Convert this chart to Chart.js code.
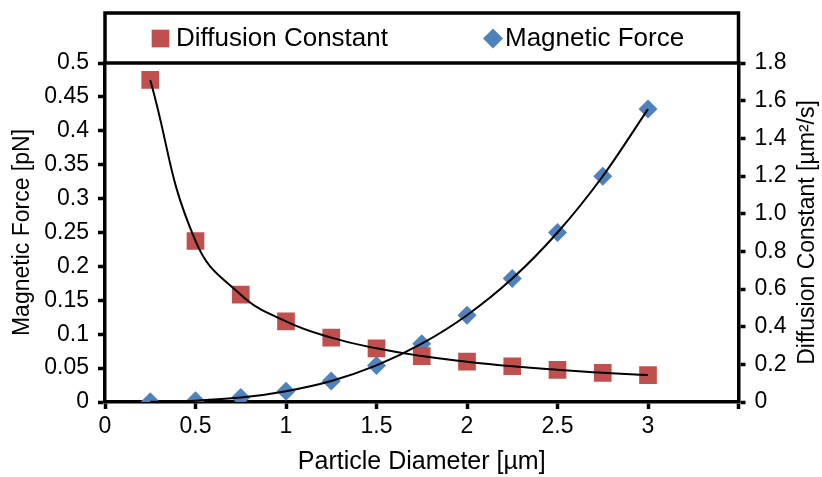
<!DOCTYPE html>
<html lang="en">
<head>
    <meta charset="UTF-8">
    <title>Magnetic Force and Diffusion Constant</title>
    <script src="https://cdn.jsdelivr.net/npm/chart.js"></script>
    <style>
        html, body {
            margin: 0;
            padding: 0;
            background: #fff;
        }
        #wrap {
            width: 822px;
            height: 477px;
        }
    </style>
</head>
<body>
    <div id="wrap"><canvas id="forceChart" width="822" height="477"></canvas></div>

    <script>
        // values
        const diameters = [0.25, 0.5, 0.75, 1, 1.25, 1.5, 1.75, 2, 2.25, 2.5, 2.75, 3];
        const magneticForce = [0.0003, 0.002, 0.0065, 0.016, 0.031, 0.054, 0.086, 0.128, 0.182, 0.25, 0.333, 0.432];
        const diffusionConstant = [1.71, 0.855, 0.57, 0.428, 0.342, 0.285, 0.244, 0.214, 0.19, 0.171, 0.155, 0.143];
        const xTicks = [0, 0.5, 1, 1.5, 2, 2.5, 3];

        const FONT = "'Liberation Sans', Arial, sans-serif";
        const RED = '#C0504D';
        const BLUE = '#4F81BD';

        const toPoints = ys => diameters.map((d, i) => ({ x: d, y: ys[i] }));

        // legend box on top of the plot + right axis title (reads bottom to top)
        const decorations = {
            id: 'decorations',
            afterDraw(chart) {
                const { ctx, chartArea } = chart;
                const top = 13;
                ctx.save();
                ctx.strokeStyle = '#000';
                ctx.lineWidth = 3.5;
                ctx.strokeRect(chartArea.left, top, chartArea.right - chartArea.left, chartArea.top - top);

                const midY = (top + chartArea.top) / 2 + 0.5;
                ctx.font = '26px ' + FONT;
                ctx.textBaseline = 'middle';
                ctx.fillStyle = RED;
                Chart.helpers.drawPoint(ctx, { pointStyle: 'rect', radius: 12.5, rotation: 0, borderWidth: 0 }, chartArea.left + 55.5, midY);
                ctx.fillStyle = '#000';
                ctx.fillText('Diffusion Constant', chartArea.left + 71, midY);
                ctx.fillStyle = BLUE;
                Chart.helpers.drawPoint(ctx, { pointStyle: 'rectRot', radius: 10, rotation: 0, borderWidth: 0 }, chartArea.left + 388, midY);
                ctx.fillStyle = '#000';
                ctx.fillText('Magnetic Force', chartArea.left + 400, midY);

                ctx.translate(808, (chartArea.top + chartArea.bottom) / 2);
                ctx.rotate(-Math.PI / 2);
                ctx.textAlign = 'center';
                ctx.font = '23px ' + FONT;
                ctx.fillText('Diffusion Constant [\u00b5m\u00b2/s]', 0, 0);
                ctx.restore();
            }
        };

        const axisGrid = {
            drawOnChartArea: false,
            drawTicks: true,
            tickLength: 7,
            tickWidth: 3.5,
            tickColor: '#000'
        };
        const axisBorder = { display: true, color: '#000', width: 3.5 };
        const tickFont = { family: FONT, size: 23 };

        new Chart(document.getElementById('forceChart'), {
            type: 'scatter',
            data: {
                datasets: [
                    {
                        label: 'Diffusion trend',
                        data: toPoints(diffusionConstant),
                        yAxisID: 'y1',
                        showLine: true,
                        borderColor: '#000',
                        borderWidth: 2,
                        pointRadius: 0,
                        tension: 0.45,
                        order: 0
                    },
                    {
                        label: 'Force trend',
                        data: toPoints(magneticForce),
                        yAxisID: 'y',
                        showLine: true,
                        borderColor: '#000',
                        borderWidth: 2,
                        pointRadius: 0,
                        cubicInterpolationMode: 'monotone',
                        order: 0
                    },
                    {
                        label: 'Diffusion Constant',
                        data: toPoints(diffusionConstant),
                        yAxisID: 'y1',
                        pointStyle: 'rect',
                        pointRadius: 12.5,
                        pointHoverRadius: 12.5,
                        backgroundColor: RED,
                        borderColor: RED,
                        borderWidth: 0,
                        order: 1
                    },
                    {
                        label: 'Magnetic Force',
                        data: toPoints(magneticForce),
                        yAxisID: 'y',
                        pointStyle: 'rectRot',
                        pointRadius: 9.5,
                        pointHoverRadius: 9.5,
                        backgroundColor: BLUE,
                        borderColor: BLUE,
                        borderWidth: 0,
                        order: 1
                    }
                ]
            },
            options: {
                responsive: false,
                animation: false,
                layout: { padding: { top: 63, left: 0, right: 0, bottom: 0 } },
                plugins: {
                    legend: { display: false },
                    tooltip: { enabled: false }
                },
                scales: {
                    x: {
                        type: 'linear',
                        min: 0,
                        max: 3.5,
                        grid: axisGrid,
                        border: axisBorder,
                        afterFit: s => { s.height = 75; },
                        afterBuildTicks: s => {
                            s.ticks = xTicks.concat([3.5]).map(v => ({ value: v }));
                        },
                        ticks: {
                            color: '#000',
                            font: tickFont,
                            padding: 4,
                            maxRotation: 0,
                            callback: v => (xTicks.includes(v) ? String(v) : '')
                        },
                        title: {
                            display: true,
                            text: 'Particle Diameter [\u00b5m]',
                            color: '#000',
                            font: { family: FONT, size: 25 },
                            padding: { top: 0, bottom: 0 }
                        }
                    },
                    y: {
                        position: 'left',
                        min: 0,
                        max: 0.5,
                        grid: axisGrid,
                        border: axisBorder,
                        afterFit: s => { s.width = 105; },
                        ticks: {
                            stepSize: 0.05,
                            color: '#000',
                            font: tickFont,
                            padding: 9,
                            callback: v => String(Math.round(v * 100) / 100)
                        },
                        title: {
                            display: true,
                            text: 'Magnetic Force [pN]',
                            color: '#000',
                            font: { family: FONT, size: 23 },
                            padding: { top: 9, bottom: 0 }
                        }
                    },
                    y1: {
                        position: 'right',
                        min: 0,
                        max: 1.8,
                        grid: axisGrid,
                        border: axisBorder,
                        afterFit: s => { s.width = 83.5; },
                        ticks: {
                            stepSize: 0.2,
                            color: '#000',
                            font: tickFont,
                            padding: 9,
                            callback: v => (v === 0 ? '0' : v.toFixed(1))
                        }
                    }
                }
            },
            plugins: [decorations]
        });
    </script>
</body>
</html>
